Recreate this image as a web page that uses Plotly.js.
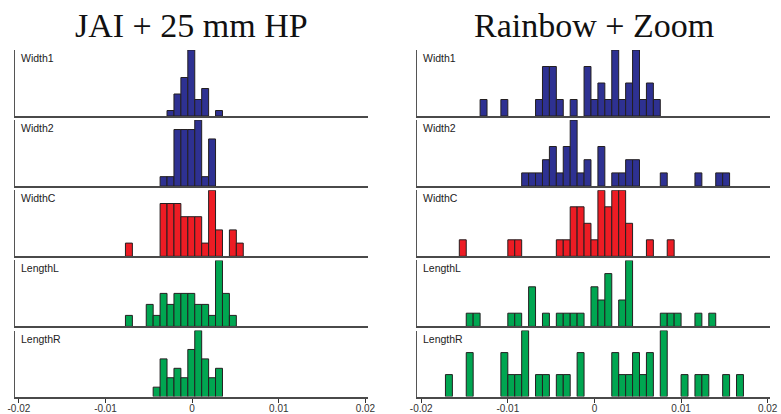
<!DOCTYPE html>
<html>
<head>
<meta charset="utf-8">
<script src="https://cdn.plot.ly/plotly-3.0.1.min.js"></script>
<style>
  html, body { margin: 0; padding: 0; background: #fff; }
  #chart { width: 781px; height: 414px; }
</style>
</head>
<body>
<div id="chart"></div>
<script>
// ---------- data ----------
const columnTitles = ['JAI + 25 mm HP', 'Rainbow + Zoom'];
const panelNames = ['Width1', 'Width2', 'WidthC', 'LengthL', 'LengthR'];
const xTickVals = [-0.02, -0.01, 0, 0.01, 0.02];
const xTickText = ['-0.02', '-0.01', '0', '0.01', '0.02'];
const binWidth = 0.0008;

// JAI + 25 mm HP (bin centres, counts)
const jaiWidth1X = [-0.0025, -0.0017, -0.0009, -0.0001, 0.0007, 0.0015, 0.0031];
const jaiWidth1Y = [1, 4, 7, 12, 3, 5, 1];
const jaiWidth2X = [-0.0033, -0.0025, -0.0017, -0.0009, -0.0001, 0.0007, 0.0015, 0.0023];
const jaiWidth2Y = [1, 1, 6, 6, 6, 7, 1, 5];
const jaiWidthCX = [-0.0073, -0.0033, -0.0025, -0.0017, -0.0009, -0.0001, 0.0007, 0.0015, 0.0023, 0.0031, 0.0047, 0.0055];
const jaiWidthCY = [1, 4, 4, 4, 3, 3, 3, 1, 5, 2, 2, 1];
const jaiLengthLX = [-0.0073, -0.0049, -0.0041, -0.0033, -0.0025, -0.0017, -0.0009, -0.0001, 0.0007, 0.0015, 0.0023, 0.0031, 0.0039, 0.0047];
const jaiLengthLY = [1, 2, 1, 3, 2, 3, 3, 3, 2, 2, 1, 6, 3, 1];
const jaiLengthRX = [-0.0041, -0.0033, -0.0025, -0.0017, -0.0009, -0.0001, 0.0007, 0.0015, 0.0023, 0.0031];
const jaiLengthRY = [1, 4, 2, 3, 2, 5, 7, 4, 2, 3];

// Rainbow + Zoom (bin centres, counts)
const rzWidth1X = [-0.0128, -0.0104, -0.0064, -0.0056, -0.0048, -0.004, -0.0024, -0.0008, 0, 0.0008, 0.0016, 0.0024, 0.0032, 0.004, 0.0048, 0.0056, 0.0064, 0.0072];
const rzWidth1Y = [1, 1, 1, 3, 3, 1, 1, 3, 1, 2, 1, 4, 1, 2, 4, 1, 2, 1];
const rzWidth2X = [-0.008, -0.0072, -0.0064, -0.0056, -0.0048, -0.004, -0.0032, -0.0024, -0.0016, -0.0008, 0.0008, 0.0024, 0.0032, 0.004, 0.0048, 0.008, 0.012, 0.0144, 0.0152];
const rzWidth2Y = [1, 1, 1, 2, 3, 1, 3, 5, 1, 2, 3, 1, 1, 2, 2, 1, 1, 1, 1];
const rzWidthCX = [-0.0152, -0.0096, -0.0088, -0.004, -0.0032, -0.0024, -0.0016, -0.0008, 0, 0.0008, 0.0016, 0.0024, 0.0032, 0.004, 0.0064, 0.0088];
const rzWidthCY = [1, 1, 1, 1, 1, 3, 3, 2, 1, 4, 3, 4, 4, 2, 1, 1];
const rzLengthLX = [-0.0144, -0.0136, -0.0096, -0.0088, -0.0072, -0.0056, -0.004, -0.0032, -0.0024, -0.0016, 0, 0.0008, 0.0016, 0.0032, 0.004, 0.008, 0.0088, 0.0096, 0.012, 0.0136];
const rzLengthLY = [1, 1, 1, 1, 3, 1, 1, 1, 1, 1, 3, 2, 4, 2, 5, 1, 1, 1, 1, 1];
const rzLengthRX = [-0.0168, -0.0144, -0.0104, -0.0096, -0.0088, -0.008, -0.0064, -0.0056, -0.004, -0.0032, -0.0016, 0.0024, 0.0032, 0.004, 0.0048, 0.0056, 0.0064, 0.008, 0.0104, 0.012, 0.0128, 0.0152, 0.0168];
const rzLengthRY = [1, 2, 2, 1, 1, 3, 1, 1, 1, 1, 2, 2, 1, 1, 2, 1, 2, 3, 1, 1, 1, 1, 1];

// ---------- build ----------
const W = 781, H = 414;
const panelColors = ['#2E3192', '#2E3192', '#ED1C24', '#00A651', '#00A651'];
const columns = [
  [[jaiWidth1X, jaiWidth1Y], [jaiWidth2X, jaiWidth2Y], [jaiWidthCX, jaiWidthCY], [jaiLengthLX, jaiLengthLY], [jaiLengthRX, jaiLengthRY]],
  [[rzWidth1X, rzWidth1Y], [rzWidth2X, rzWidth2Y], [rzWidthCX, rzWidthCY], [rzLengthLX, rzLengthLY], [rzLengthRX, rzLengthRY]]
];
const colPx = [[15, 368], [417.3, 770.3]];
const basePx = [116, 186.1, 256.3, 326.4, 396.6];
const barH = 66;
const xRange = [-0.02045, 0.0203];

const traces = [];
const layout = {
  width: W, height: H,
  margin: {l: 0, r: 0, t: 0, b: 0},
  paper_bgcolor: '#fff', plot_bgcolor: 'rgba(0,0,0,0)',
  showlegend: false,
  annotations: [],
  font: {family: 'Liberation Sans, Arial, sans-serif', color: '#222'}
};

columns.forEach((col, c) => {
  const xd = [colPx[c][0] / W, colPx[c][1] / W];
  layout.annotations.push({
    text: columnTitles[c], showarrow: false,
    xref: 'paper', yref: 'paper',
    x: (xd[0] + xd[1]) / 2, y: 1 - 25 / H,
    xanchor: 'center', yanchor: 'middle',
    font: {family: 'Liberation Serif, Times New Roman, serif', size: 34, color: '#111'}
  });
  col.forEach((series, r) => {
    const n = c * 5 + r + 1;
    const xa = 'xaxis' + n, ya = 'yaxis' + n;
    const xs = 'x' + n, ys = 'y' + n;
    const maxY = Math.max(...series[1]);
    const yd = [1 - basePx[r] / H, 1 - (basePx[r] - barH) / H];
    const bottom = r === 4;
    traces.push({
      type: 'bar', x: series[0], y: series[1], width: binWidth,
      xaxis: xs, yaxis: ys,
      marker: {color: panelColors[r], line: {color: '#231F20', width: 1}},
      hoverinfo: 'skip'
    });
    layout[xa] = {
      domain: xd, anchor: ys, range: xRange,
      showgrid: false, zeroline: false,
      showline: true, linecolor: '#4a4a4a', linewidth: 2,
      tickmode: 'array', tickvals: xTickVals, ticktext: xTickText,
      ticks: bottom ? 'outside' : '', ticklen: 4, tickwidth: 1, tickcolor: '#333',
      showticklabels: bottom, ticklabelstandoff: -3,
      tickfont: {family: 'Liberation Sans, Arial, sans-serif', size: 10, color: '#333'}
    };
    layout[ya] = {
      domain: yd, anchor: xs, range: [0, maxY],
      showgrid: false, zeroline: false,
      showline: true, linecolor: '#555', linewidth: 1,
      ticks: '', showticklabels: false
    };
    layout.annotations.push({
      text: panelNames[r], showarrow: false,
      xref: 'paper', yref: 'paper',
      x: (colPx[c][0] + 4) / W, y: yd[1],
      xanchor: 'left', yanchor: 'top',
      font: {family: 'Liberation Sans, Arial, sans-serif', size: 10.5, color: '#222'}
    });
  });
});

Plotly.newPlot('chart', traces, layout, {staticPlot: true, displayModeBar: false});
</script>
</body>
</html>
